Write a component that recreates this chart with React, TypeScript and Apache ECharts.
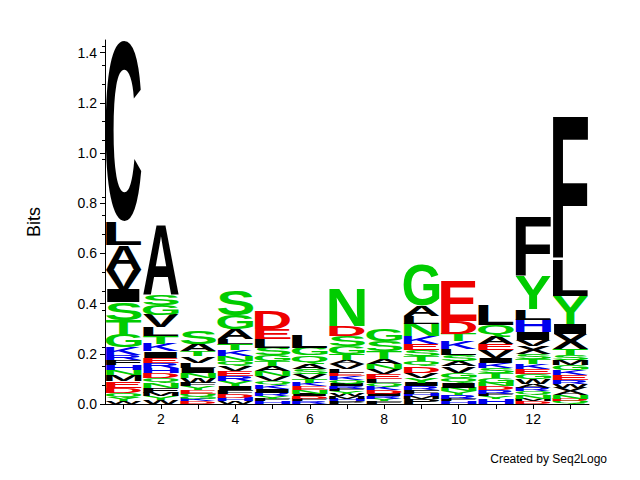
import React, { useEffect, useRef } from "react";
import * as echarts from "echarts";

// Each column: letters top-down with heights in bits
const positions = [1, 2, 3, 4, 5, 6, 7, 8, 9, 10, 11, 12, 13];
const col1L = ["C","L","A","V","I","S","T","G","K","R","F","H","N","M","E","D","Q","Y","W"];
const col1H = [0.72,0.09,0.10,0.08,0.05,0.07,0.06,0.05,0.03,0.02,0.02,0.02,0.02,0.025,0.025,0.02,0.02,0.015,0.01];
const col2L = ["A","S","G","V","L","T","K","I","E","R","H","D","Q","N","F","M","Y","W"];
const col2H = [0.28,0.04,0.04,0.05,0.035,0.03,0.03,0.025,0.02,0.02,0.02,0.02,0.02,0.02,0.02,0.015,0.015,0.015];
const col3L = ["S","A","T","V","L","I","N","W","F","Y","E","Q","G","K","D"];
const col3H = [0.05,0.03,0.02,0.025,0.02,0.02,0.02,0.02,0.015,0.015,0.015,0.01,0.01,0.01,0.01];
const col4L = ["S","G","A","L","T","K","N","Q","V","E","R","Y","I","F","D","H","W"];
const col4H = [0.1,0.055,0.04,0.02,0.025,0.025,0.02,0.02,0.02,0.02,0.02,0.02,0.015,0.015,0.015,0.015,0.01];
const col5L = ["D","E","L","S","G","T","A","N","V","Q","K","I","R","Y","F","H"];
const col5H = [0.07,0.04,0.035,0.03,0.025,0.02,0.02,0.02,0.02,0.015,0.015,0.015,0.015,0.01,0.01,0.01];
const col6L = ["L","G","Q","A","S","V","T","K","E","N","I","D","F","R"];
const col6H = [0.05,0.03,0.035,0.02,0.02,0.02,0.015,0.015,0.015,0.015,0.01,0.01,0.01,0.01];
const col7L = ["N","D","S","G","T","A","V","L","E","K","Q","I","R","F","Y","W","M","H","P"];
const col7H = [0.15,0.04,0.04,0.03,0.025,0.015,0.02,0.015,0.015,0.015,0.015,0.01,0.01,0.01,0.01,0.01,0.01,0.01,0.01];
const col8L = ["G","S","T","A","N","V","E","L","Q","K","D","I","R","Y","F"];
const col8H = [0.045,0.04,0.03,0.02,0.02,0.02,0.02,0.015,0.015,0.015,0.015,0.01,0.01,0.01,0.01];
const col9L = ["G","A","L","N","K","E","S","T","Q","D","V","Y","I","R","F","H","M","P"];
const col9H = [0.16,0.04,0.03,0.05,0.03,0.025,0.025,0.02,0.02,0.025,0.02,0.02,0.015,0.015,0.015,0.01,0.01,0.02];
const col10L = ["E","D","T","K","L","S","A","V","G","Q","I","N","Y","R","F","H"];
const col10H = [0.16,0.05,0.03,0.03,0.025,0.025,0.02,0.025,0.02,0.02,0.02,0.015,0.015,0.015,0.01,0.01];
const col11L = ["L","Q","A","E","V","I","K","S","T","G","N","D","R","F","Y","H"];
const col11H = [0.08,0.045,0.03,0.025,0.03,0.02,0.02,0.02,0.02,0.02,0.015,0.015,0.015,0.01,0.01,0.02];
const col12L = ["F","Y","L","H","I","V","X","S","T","K","E","G","W","A","R","Q","N","M","D"];
const col12H = [0.24,0.13,0.04,0.05,0.03,0.025,0.03,0.02,0.02,0.02,0.02,0.02,0.02,0.015,0.015,0.015,0.015,0.01,0.01];
const col13L = ["F","L","Y","I","X","T","S","M","G","K","E","R","W","V","A","N","D","Q"];
const col13H = [0.57,0.14,0.11,0.04,0.06,0.025,0.02,0.02,0.02,0.02,0.02,0.015,0.015,0.015,0.015,0.015,0.01,0.01];
const yTicks = [0, 0.2, 0.4, 0.6, 0.8, 1.0, 1.2, 1.4];
const xTickLabels = [2, 4, 6, 8, 10, 12];

const lettersByCol = [col1L,col2L,col3L,col4L,col5L,col6L,col7L,col8L,col9L,col10L,col11L,col12L,col13L];
const heightsByCol = [col1H,col2H,col3H,col4H,col5H,col6H,col7H,col8H,col9H,col10H,col11H,col12H,col13H];

const colorOf = (l: string) => {
  if ("GSTYNQ".includes(l)) return "#00cc00";
  if ("KRH".includes(l)) return "#0000ee";
  if ("DE".includes(l)) return "#ee0000";
  return "#000000";
};

const FONT = "bold 100px 'Liberation Sans', Arial, sans-serif";
const metricCache: Record<string, { l: number; r: number; a: number; d: number; off: number }> = {};
function metrics(ch: string) {
  if (metricCache[ch]) return metricCache[ch];
  const ctx = document.createElement("canvas").getContext("2d")!;
  ctx.font = FONT;
  const m: any = ctx.measureText(ch);
  const fa = m.fontBoundingBoxAscent || 90.5;
  const fd = m.fontBoundingBoxDescent || 21.2;
  const res = {
    l: m.actualBoundingBoxLeft || 0,
    r: m.actualBoundingBoxRight || 60,
    a: m.actualBoundingBoxAscent || 72,
    d: m.actualBoundingBoxDescent || 0,
    off: (fa - fd) / 2,
  };
  metricCache[ch] = res;
  return res;
}

export default function App() {
  const ref = useRef<HTMLDivElement>(null);
  useEffect(() => {
    const chart = echarts.init(ref.current!, null, { renderer: "svg" });
    const data: any[] = [];
    positions.forEach((p, i) => {
      const L = lettersByCol[i];
      const H = heightsByCol[i];
      let y = 0;
      for (let k = L.length - 1; k >= 0; k--) {
        data.push([p, y, y + H[k], L[k]]);
        y += H[k];
      }
    });
    chart.setOption({
      animation: false,
      grid: { left: 97, right: 43, top: 32, bottom: 68 },
      xAxis: {
        type: "value",
        min: 0.5,
        max: 13.5,
        axisLine: { show: true, onZero: false, lineStyle: { color: "#000" } },
        axisTick: { show: true, customValues: positions, lineStyle: { color: "#000" } },
        axisLabel: { customValues: xTickLabels, color: "#000", fontSize: 14, fontFamily: "Liberation Sans" },
        splitLine: { show: false },
      },
      yAxis: {
        type: "value",
        min: 0,
        max: 1.45,
        name: "Bits",
        nameLocation: "middle",
        nameGap: 62,
        nameTextStyle: { fontSize: 18, color: "#000", fontFamily: "Liberation Sans" },
        axisLine: { show: true, lineStyle: { color: "#000" } },
        axisTick: { show: true, customValues: yTicks, lineStyle: { color: "#000" } },
        minorTick: { show: true, splitNumber: 4, lineStyle: { color: "#000" } },
        axisLabel: {
          customValues: yTicks,
          color: "#000",
          fontSize: 14,
          fontFamily: "Liberation Sans",
          formatter: (v: number) => v.toFixed(1),
        },
        splitLine: { show: false },
      },
      graphic: [
        {
          type: "text",
          right: 25,
          top: 445,
          style: { text: "Created by Seq2Logo", fontSize: 12, fill: "#000", fontFamily: "Liberation Sans" },
        },
      ],
      series: [
        {
          type: "custom",
          data,
          clip: true,
          encode: { x: 0, y: [1, 2] },
          renderItem: (params: any, api: any) => {
            const p = api.value(0);
            const y0 = api.value(1);
            const y1 = api.value(2);
            const ch = data[params.dataIndex][3];
            const a = api.coord([p - 0.48, y1]);
            const b = api.coord([p + 0.48, y0]);
            const w = b[0] - a[0];
            const h = b[1] - a[1];
            if (h <= 0.2) return null;
            const m = metrics(ch);
            const sx = w / (m.l + m.r);
            const sy = h / (m.a + m.d);
            return {
              type: "text",
              x: a[0] + m.l * sx,
              y: a[1] + (m.a - m.off) * sy,
              scaleX: sx,
              scaleY: sy,
              style: {
                text: ch,
                font: FONT,
                fill: colorOf(ch),
                textAlign: "left",
                verticalAlign: "middle",
              },
            };
          },
        },
      ],
    });
    return () => chart.dispose();
  }, []);
  return <div ref={ref} style={{ width: 624, height: 464 }} />;
}
